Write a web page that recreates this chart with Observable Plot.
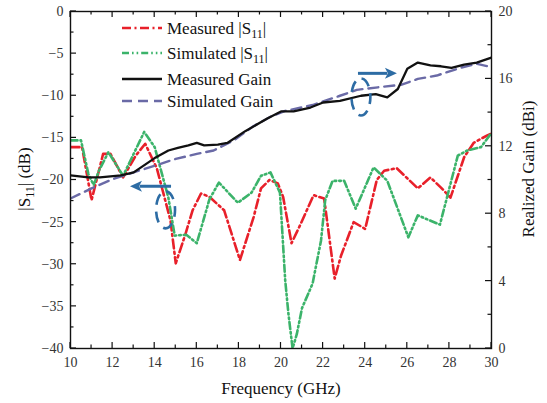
<!DOCTYPE html>
<html><head><meta charset="utf-8">
<script src="https://cdn.jsdelivr.net/npm/d3@7"></script>
<script src="https://cdn.jsdelivr.net/npm/@observablehq/plot@0.6"></script>
<style>
body{margin:0;background:#fff;}
#wrap{position:relative;width:547px;height:403px;font-family:'Liberation Serif','DejaVu Serif',serif;}
#wrap svg.overlay{position:absolute;left:0;top:0;pointer-events:none;}
#wrap text{font-family:'Liberation Serif','DejaVu Serif',serif;}
</style></head><body><div id="wrap"></div>
<script>
// ---------- data ----------
const measS11Freq = [10.0,10.55,11.0,11.55,11.9,12.5,13.1,13.55,14.1,14.75,15.0,15.45,15.8,16.2,16.6,17.3,18.05,18.7,19.05,19.45,19.85,20.1,20.5,20.9,21.55,22.05,22.55,22.85,23.45,24.0,24.55,24.9,25.5,26.5,27.1,27.6,28.05,28.7,29.15,29.8,30.0];
const measS11     = [-16.1,-16.1,-22.4,-16.9,-16.9,-19.7,-17.1,-15.7,-18.6,-24.8,-29.9,-26.5,-23.6,-21.6,-22.0,-23.6,-29.5,-24.4,-21.0,-20.0,-20.4,-22.0,-27.5,-25.4,-21.8,-22.2,-31.7,-29.0,-25.0,-25.8,-20.0,-18.9,-18.6,-21.0,-19.7,-20.9,-22.1,-17.3,-15.6,-14.7,-14.5];

const simS11Freq = [10.0,10.5,10.85,11.1,11.35,11.8,12.5,13.5,14.0,14.65,14.95,15.5,16.0,16.6,17.05,17.95,18.6,19.05,19.5,19.95,20.2,20.35,20.55,20.75,21.0,21.5,21.9,22.1,22.45,23.0,23.55,24.4,25.05,26.05,26.5,27.55,28.4,28.85,29.5,30.0];
const simS11     = [-15.3,-15.3,-19.3,-20.6,-18.9,-16.7,-19.5,-14.3,-16.1,-22.1,-26.6,-26.5,-27.5,-22.3,-20.3,-22.7,-21.5,-19.5,-19.1,-21.5,-31.9,-35.8,-40.0,-38.3,-35.2,-32.3,-27.2,-22.4,-20.1,-20.1,-23.4,-18.5,-20.1,-26.8,-24.2,-25.3,-17.1,-16.5,-16.1,-14.4];

const measGainFreq = [10.0,10.85,11.4,12.4,13.0,14.0,14.65,15.1,15.6,16.0,16.35,17.0,17.45,18.3,19.35,20.0,20.6,21.4,22.0,22.8,23.8,24.5,25.05,25.55,26.0,26.5,27.1,27.6,28.1,28.7,29.3,30.0];
const measGain     = [10.27,10.15,10.15,10.27,10.45,11.3,11.75,11.9,12.05,12.2,12.05,12.1,12.2,12.9,13.65,14.07,14.07,14.3,14.6,14.7,15.0,15.1,14.9,15.4,16.6,16.97,16.8,16.75,16.65,16.85,16.97,17.27];

const simGainFreq = [10,11,12,13,14,15,16,16.8,17.75,18.7,19.5,20.2,21.5,22.8,23.6,24.6,25.7,26.5,27.4,28.5,29.3,30];
const simGain     = [8.9,9.5,10.05,10.45,10.85,11.25,11.55,11.75,12.35,13.2,13.75,14.1,14.45,15.0,15.35,15.5,15.65,16.0,16.2,16.65,16.9,16.7];

// tick values / labels
const xTicks = [10,12,14,16,18,20,22,24,26,28,30];
const xMinorTicks = [11,13,15,17,19,21,23,25,27,29];
const s11Ticks = [0,-5,-10,-15,-20,-25,-30,-35,-40];
const s11MinorTicks = [-2.5,-7.5,-12.5,-17.5,-22.5,-27.5,-32.5,-37.5];
const gainTicks = [0,4,8,12,16,20];
const gainMinorTicks = [2,6,10,14,18];

// annotations (data coordinates): ellipse groups and arrows showing which axis
const ellipseFreq = [14.54, 23.82];
const ellipseS11  = [-23.6, null];
const ellipseGain = [null, 14.9];
const arrowFromFreq = [14.8, 23.68];
const arrowToFreq   = [12.85, 25.53];
const arrowS11  = [-20.8, null];
const arrowGain = [null, 16.3];

// ---------- helpers ----------
const FONT = "'Liberation Serif','DejaVu Serif',serif";
const gainToDb = g => 2 * g - 40;       // right axis (0..20 dBi) shares the frame with left axis (-40..0 dB)
const dbToGain = d => (d + 40) / 2;
const rows = (xs, ys, f = v => v) => xs.map((x, i) => ({x, y: f(ys[i])}));

const C = {red:"#e8202a", green:"#3bb36a", black:"#111", purple:"#6a6aa6", blue:"#2d6ca4"};
const DASH = {red:"9,3.5,2,3.5", green:"7,3,1.6,3,1.6,3", black:null, purple:"10,6"};

const ticksMark = (index, {x, y}, values, dims) => {
  const g = d3.create("svg:g").attr("stroke", "#111").attr("stroke-width", 1.2).attr("fill", "none");
  const L = dims.marginLeft, R = dims.width - dims.marginRight, T = dims.marginTop, B = dims.height - dims.marginBottom;
  const add = (x1, y1, x2, y2) => g.append("line").attr("x1", x1).attr("y1", y1).attr("x2", x2).attr("y2", y2);
  for (const [arr, len] of [[xTicks, 6], [xMinorTicks, 3.5]]) for (const t of arr) { const p = x(t); add(p, B, p, B - len); add(p, T, p, T + len); }
  for (const [arr, len] of [[s11Ticks, 6], [s11MinorTicks, 3.5]]) for (const t of arr) { const p = y(t); add(L, p, L + len, p); }
  for (const [arr, len] of [[gainTicks, 6], [gainMinorTicks, 3.5]]) for (const t of arr) { const p = y(gainToDb(t)); add(R, p, R - len, p); }
  return g.node();
};

const annotMark = (index, {x, y}) => {
  const g = d3.create("svg:g");
  for (let i = 0; i < ellipseFreq.length; i++) {
    const cyv = ellipseS11[i] != null ? ellipseS11[i] : gainToDb(ellipseGain[i]);
    const cx = x(ellipseFreq[i]), cy = y(cyv);
    const rx = x(ellipseFreq[i] + 0.45) - cx, ry = y(cyv - 2.2) - cy;
    g.append("ellipse").attr("cx", cx).attr("cy", cy).attr("rx", rx).attr("ry", ry)
      .attr("fill", "none").attr("stroke", C.blue).attr("stroke-width", 2.6).attr("stroke-dasharray", "11,7")
      .attr("stroke-dashoffset", 4);
  }
  for (let i = 0; i < arrowFromFreq.length; i++) {
    const yv = arrowS11[i] != null ? arrowS11[i] : gainToDb(arrowGain[i]);
    const x1 = x(arrowFromFreq[i]), x2 = x(arrowToFreq[i]), py = y(yv);
    const dir = Math.sign(x2 - x1), hl = 12, hw = 5.5;
    g.append("line").attr("x1", x1).attr("y1", py).attr("x2", x2 - dir * hl * 0.8).attr("y2", py)
      .attr("stroke", C.blue).attr("stroke-width", 3);
    g.append("path").attr("d", `M${x2},${py}L${x2 - dir * hl},${py - hw}L${x2 - dir * hl * 0.75},${py}L${x2 - dir * hl},${py + hw}Z`)
      .attr("fill", C.blue);
  }
  return g.node();
};

const W = 547, H = 403;
const chart = Plot.plot({
  width: W, height: H,
  marginLeft: 70, marginRight: 56, marginTop: 11, marginBottom: 55,
  style: {fontFamily: FONT, fontSize: "14px", color: "#333", background: "#fff"},
  x: {domain: [10, 30]},
  y: {domain: [-40, 0]},
  marks: [
    Plot.line(rows(measS11Freq, measS11), {x: "x", y: "y", stroke: C.red, strokeWidth: 2.6, strokeDasharray: DASH.red, clip: true}),
    Plot.line(rows(simS11Freq, simS11), {x: "x", y: "y", stroke: C.green, strokeWidth: 2.6, strokeDasharray: DASH.green, clip: true}),
    Plot.line(rows(simGainFreq, simGain, gainToDb), {x: "x", y: "y", stroke: C.purple, strokeWidth: 2.4, strokeDasharray: DASH.purple, clip: true}),
    Plot.line(rows(measGainFreq, measGain, gainToDb), {x: "x", y: "y", stroke: C.black, strokeWidth: 2.3, clip: true}),
    annotMark,
    Plot.frame({stroke: "#111", strokeWidth: 1.4}),
    ticksMark,
    Plot.axisX({ticks: xTicks, tickSize: 0, tickPadding: 9, label: null}),
    Plot.axisY({ticks: s11Ticks, anchor: "left", tickSize: 0, tickPadding: 7, label: null}),
    Plot.axisY({ticks: gainTicks.map(gainToDb), anchor: "right", tickSize: 0, tickPadding: 7, label: null, tickFormat: d => String(dbToGain(d))})
  ]
});
const wrap = document.getElementById("wrap");
wrap.appendChild(chart);

// ---------- legend and axis titles (overlay) ----------
const legendItems = [
  {key: "red", label: "Measured |S", sub: "11", tail: "|"},
  {key: "green", label: "Simulated |S", sub: "11", tail: "|"},
  {key: "black", label: "Measured Gain"},
  {key: "purple", label: "Simulated Gain"}
];
const ov = d3.select(wrap).append("svg").attr("class", "overlay").attr("width", W).attr("height", H);
const rowY = [28, 53, 79, 101];
legendItems.forEach((it, i) => {
  const yy = rowY[i];
  ov.append("line").attr("x1", 122).attr("x2", 162).attr("y1", yy).attr("y2", yy)
    .attr("stroke", C[it.key]).attr("stroke-width", it.key === "black" ? 2.5 : 2.6)
    .attr("stroke-dasharray", DASH[it.key]);
  const t = ov.append("text").attr("x", 167).attr("y", yy + 6).attr("font-size", 17).attr("fill", "#111");
  t.append("tspan").text(it.label);
  if (it.sub) {
    t.append("tspan").attr("font-size", 12).attr("dy", 4).text(it.sub);
    t.append("tspan").attr("dy", -4).text(it.tail);
  }
});
const yl = ov.append("text").attr("transform", "translate(30,179) rotate(-90)").attr("text-anchor", "middle")
  .attr("font-size", 17).attr("fill", "#111");
yl.append("tspan").text("|S");
yl.append("tspan").attr("font-size", 12).attr("dy", 4).text("11");
yl.append("tspan").attr("dy", -4).text("| (dB)");
ov.append("text").attr("transform", "translate(534,169) rotate(-90)").attr("text-anchor", "middle")
  .attr("font-size", 17).attr("fill", "#111").text("Realized Gain (dBi)");
ov.append("text").attr("x", 281).attr("y", 394).attr("text-anchor", "middle")
  .attr("font-size", 17).attr("fill", "#111").text("Frequency (GHz)");
</script></body></html>
